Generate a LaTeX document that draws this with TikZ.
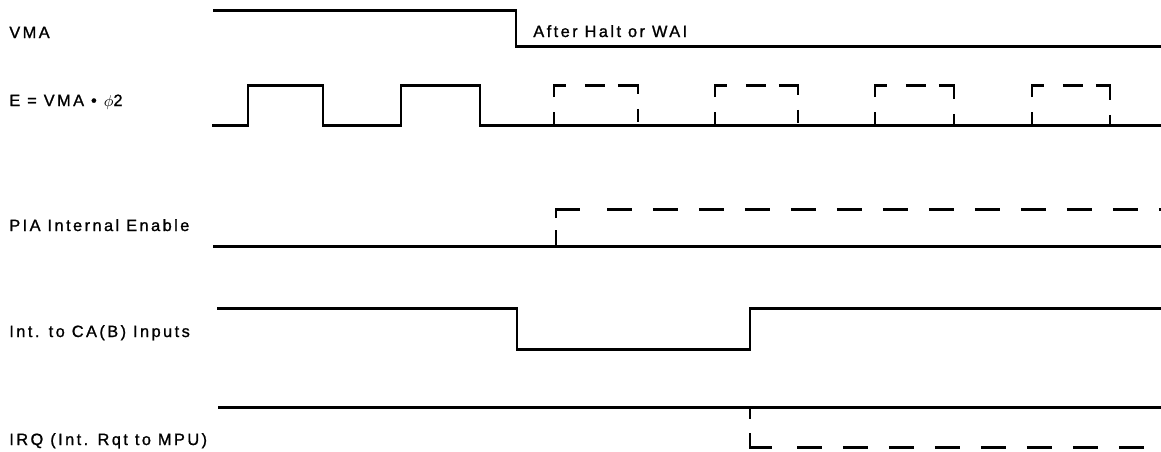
\documentclass[tikz,border=0pt]{standalone}
\usepackage{fontspec}
\setmainfont[LetterSpace=15, FakeBold=1.2]{Liberation Sans}
\usetikzlibrary{positioning}
\tikzset{
    siglabel/.style={anchor=base west, inner sep=0pt, font=\fontsize{9.3}{11}\selectfont},
    wave/.style={line width=1.7pt, line join=miter, line cap=butt, draw=black},
    longdash/.style={wave, dash pattern=on 5mm off 4.2mm},
    pulsedash/.style={wave, dash pattern=on 2.6mm off 3mm on 4.8mm off 3.8mm on 4mm off 2.6mm on 5.8mm off 3mm on 2.6mm off 20mm}
}

\begin{document}
\begin{tikzpicture}[x=0.02cm, y=-0.02cm]
        \useasboundingbox (0,0) rectangle (1161,451);
        \node[siglabel] (vma) at (9,38) {VMA};
        \node[siglabel] (enable) at (9,106) {E = VMA \textbullet\ $\phi$2};
        \node[siglabel] (pia) at (9,231) {PIA Internal Enable};
        \node[siglabel] (ca) at (9,337) {Int. to CA(B) Inputs};
        \node[siglabel] (irq) at (9,445) {IRQ (Int. Rqt to MPU)};
        \node[siglabel] (halt) at (533,37) {After Halt or WAI};
        \draw[wave] (213,10) -- (516,10) -- (516,46) -- (1161,46);
        \draw[wave] (212,125) -- (248,125) -- (248,85) -- (323,85) -- (323,125) -- (401,125) -- (401,85) -- (480,85) -- (480,125) -- (1161,125);
        \foreach \a/\b in {554/638, 715/798, 875/954, 1032/1110}
            \draw[pulsedash] (\a,125) -- (\a,85) -- (\b,85) -- (\b,125);
        \draw[wave] (213,246) -- (1161,246);
        \draw[wave] (556,246) -- (556,230);
        \draw[wave] (556,218) |- (580,209);
        \draw[longdash] (607,209) -- (1161,209);
        \draw[wave] (217,308) -- (517,308) -- (517,349) -- (750,349) -- (750,308) -- (1161,308);
        \draw[wave] (218,407) -- (1161,407);
        \draw[wave] (750,407) -- (750,419);
        \draw[wave] (750,433) |- (772,447);
        \draw[longdash] (797,447) -- (1161,447);
    \end{tikzpicture}
\end{document}
